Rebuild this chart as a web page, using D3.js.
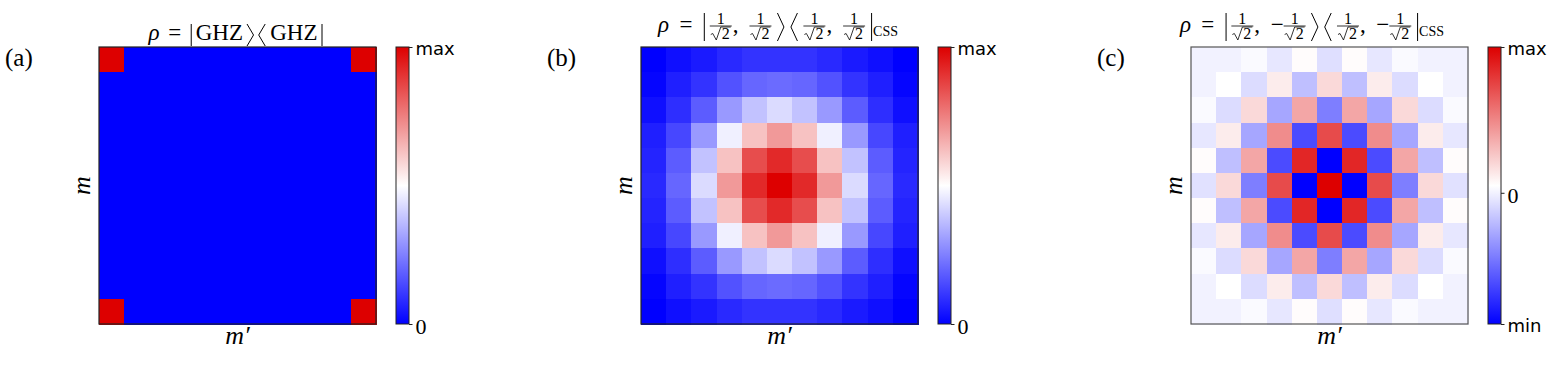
<!DOCTYPE html>
<html>
<head>
<meta charset="utf-8">
<script src="https://cdn.jsdelivr.net/npm/d3@7"></script>
<style>
  body { margin: 0; background: #fff; }
  svg { display: block; }
</style>
</head>
<body>
<svg id="chart" width="1565" height="370"></svg>
<script>
// ---------------------------------------------------------------------------
// data (11 x 11 density matrices, rows top -> bottom)
// ---------------------------------------------------------------------------
const ghzValues = [
  [1, 0, 0, 0, 0, 0, 0, 0, 0, 0, 1],
  [0, 0, 0, 0, 0, 0, 0, 0, 0, 0, 0],
  [0, 0, 0, 0, 0, 0, 0, 0, 0, 0, 0],
  [0, 0, 0, 0, 0, 0, 0, 0, 0, 0, 0],
  [0, 0, 0, 0, 0, 0, 0, 0, 0, 0, 0],
  [0, 0, 0, 0, 0, 0, 0, 0, 0, 0, 0],
  [0, 0, 0, 0, 0, 0, 0, 0, 0, 0, 0],
  [0, 0, 0, 0, 0, 0, 0, 0, 0, 0, 0],
  [0, 0, 0, 0, 0, 0, 0, 0, 0, 0, 0],
  [0, 0, 0, 0, 0, 0, 0, 0, 0, 0, 0],
  [1, 0, 0, 0, 0, 0, 0, 0, 0, 0, 1]
]

const cssPlusValues = [
  [0.00, 0.03, 0.05, 0.08, 0.10, 0.10, 0.10, 0.08, 0.05, 0.03, 0.00],
  [0.01, 0.06, 0.10, 0.16, 0.20, 0.21, 0.20, 0.16, 0.10, 0.06, 0.01],
  [0.03, 0.09, 0.18, 0.30, 0.38, 0.43, 0.38, 0.30, 0.18, 0.09, 0.03],
  [0.06, 0.14, 0.30, 0.47, 0.62, 0.70, 0.62, 0.47, 0.30, 0.14, 0.06],
  [0.07, 0.18, 0.38, 0.62, 0.85, 0.92, 0.85, 0.62, 0.38, 0.18, 0.07],
  [0.08, 0.20, 0.43, 0.70, 0.92, 1.00, 0.92, 0.70, 0.43, 0.20, 0.08],
  [0.07, 0.18, 0.38, 0.62, 0.85, 0.92, 0.85, 0.62, 0.38, 0.18, 0.07],
  [0.06, 0.14, 0.30, 0.47, 0.62, 0.70, 0.62, 0.47, 0.30, 0.14, 0.06],
  [0.03, 0.09, 0.18, 0.30, 0.38, 0.43, 0.38, 0.30, 0.18, 0.09, 0.03],
  [0.01, 0.06, 0.10, 0.16, 0.20, 0.21, 0.20, 0.16, 0.10, 0.06, 0.01],
  [0.00, 0.03, 0.05, 0.08, 0.10, 0.10, 0.10, 0.08, 0.05, 0.03, 0.00]
]

const cssMinusValues = [
  [0.00, 0.00, 0.03, -0.04, 0.06, -0.07, 0.06, -0.04, 0.03, 0.00, 0.00],
  [0.00, 0.05, -0.08, 0.12, -0.19, 0.19, -0.19, 0.12, -0.08, 0.05, 0.00],
  [0.03, -0.08, 0.19, -0.28, 0.38, -0.43, 0.38, -0.28, 0.19, -0.08, 0.03],
  [-0.04, 0.12, -0.28, 0.48, -0.62, 0.72, -0.62, 0.48, -0.28, 0.12, -0.04],
  [0.06, -0.19, 0.38, -0.62, 0.86, -0.90, 0.86, -0.62, 0.38, -0.19, 0.06],
  [-0.06, 0.19, -0.43, 0.72, -0.90, 1.00, -0.90, 0.72, -0.43, 0.19, -0.06],
  [0.06, -0.19, 0.38, -0.62, 0.86, -0.90, 0.86, -0.62, 0.38, -0.19, 0.06],
  [-0.04, 0.12, -0.28, 0.48, -0.62, 0.72, -0.62, 0.48, -0.28, 0.12, -0.04],
  [0.03, -0.08, 0.19, -0.28, 0.38, -0.43, 0.38, -0.28, 0.19, -0.08, 0.03],
  [0.00, 0.05, -0.08, 0.12, -0.19, 0.19, -0.19, 0.12, -0.08, 0.05, 0.00],
  [0.00, 0.00, 0.03, -0.04, 0.06, -0.07, 0.06, -0.04, 0.03, 0.00, 0.00]
]

const panelLabels = ['(a)', '(b)', '(c)']
const colorbarTicks = [
  [{ v: 0, label: '0' }, { v: 1, label: 'max' }],
  [{ v: 0, label: '0' }, { v: 1, label: 'max' }],
  [{ v: -0.9, label: 'min' }, { v: 0, label: '0' }, { v: 1, label: 'max' }]
]

// ---------------------------------------------------------------------------
// setup
// ---------------------------------------------------------------------------
const svg = d3.select('#chart')
const serif = "'Liberation Serif', 'DejaVu Serif', serif"
const sans = "'DejaVu Sans', sans-serif"
const size = 277
const topY = 47

// blue -> white -> red, like the figure
const cmap = d3.scaleLinear()
  .domain([0, 0.5, 1])
  .range(['#0000ff', '#ffffff', '#dd0000'])
  .interpolate(d3.interpolateRgb)

const panels = [
  { left: 99, data: ghzValues, domain: [0, 1], ticks: colorbarTicks[0], border: '#222', label: panelLabels[0], labelX: 5 },
  { left: 641, data: cssPlusValues, domain: [0, 1], ticks: colorbarTicks[1], border: '#222', label: panelLabels[1], labelX: 547 },
  { left: 1191, data: cssMinusValues, domain: [-0.9, 1], ticks: colorbarTicks[2], border: '#555', label: panelLabels[2], labelX: 1097 }
]

const defs = svg.append('defs')

panels.forEach((p, pi) => {
  const n = p.data.length
  const g = svg.append('g').attr('transform', `translate(${p.left},${topY})`)
  const x = d3.scaleBand().domain(d3.range(n)).range([0, size])
  const y = d3.scaleBand().domain(d3.range(n)).range([0, size])
  const norm = d3.scaleLinear().domain(p.domain).range([0, 1])

  const cells = []
  p.data.forEach((row, i) => row.forEach((v, j) => cells.push({ i, j, v })))

  g.selectAll('rect.cell')
    .data(cells)
    .join('rect')
    .attr('class', 'cell')
    .attr('x', d => x(d.j))
    .attr('y', d => y(d.i))
    .attr('width', x.bandwidth() + 0.6)
    .attr('height', y.bandwidth() + 0.6)
    .attr('shape-rendering', 'crispEdges')
    .attr('fill', d => cmap(norm(d.v)))

  g.append('rect')
    .attr('width', size)
    .attr('height', size)
    .attr('fill', 'none')
    .attr('stroke', p.border)
    .attr('stroke-width', 1.2)

  // axis labels
  g.append('text')
    .attr('transform', `translate(-9,${size / 2}) rotate(-90)`)
    .attr('text-anchor', 'middle')
    .style('font-family', serif)
    .style('font-style', 'italic')
    .style('font-size', '26px')
    .text('m')

  g.append('text')
    .attr('x', size / 2)
    .attr('y', size + 20)
    .attr('text-anchor', 'middle')
    .style('font-family', serif)
    .style('font-style', 'italic')
    .style('font-size', '26px')
    .text('m′')

  // panel label
  svg.append('text')
    .attr('x', p.labelX)
    .attr('y', 66)
    .style('font-family', serif)
    .style('font-size', '25px')
    .text(p.label)

  // colorbar
  const cbX = p.left + size + 20
  const cbW = 13
  const gradId = 'grad' + pi
  const grad = defs.append('linearGradient')
    .attr('id', gradId)
    .attr('x1', 0).attr('y1', 1).attr('x2', 0).attr('y2', 0)
  d3.range(0, 1.0001, 0.05).forEach(t => {
    grad.append('stop').attr('offset', t).attr('stop-color', cmap(t))
  })
  const cb = svg.append('g').attr('transform', `translate(${cbX},${topY})`)
  cb.append('rect')
    .attr('width', cbW)
    .attr('height', size)
    .attr('fill', `url(#${gradId})`)
    .attr('stroke', '#222')
    .attr('stroke-width', 1)

  const cbScale = d3.scaleLinear().domain(p.domain).range([size, 0])
  const axis = cb.append('g')
    .attr('transform', `translate(${cbW},0)`)
    .call(d3.axisRight(cbScale)
      .tickValues(p.ticks.map(t => t.v))
      .tickSize(3.5)
      .tickPadding(3)
      .tickFormat((d, i) => p.ticks[i].label))
  axis.select('.domain').remove()
  axis.selectAll('.tick line').attr('stroke', '#222')
  axis.selectAll('.tick text')
    .attr('dy', '0.42em')
    .attr('fill', '#000')
    .style('font-family', (d, i) => p.ticks[i].label === '0' ? serif : sans)
    .style('font-size', (d, i) => p.ticks[i].label === '0' ? '22px' : '18px')
})

// ---------------------------------------------------------------------------
// titles (hand-set math; growable gaps stretch it to the reference width)
// ---------------------------------------------------------------------------
function buildTitle(baseline, delimTop, delimBot, pieces, fontSize, extra) {
  const g = svg.append('g')
  let cur = 0
  const mid = (delimTop + delimBot) / 2
  const growSum = d3.sum(pieces, pc => pc.grow || 0)
  pieces.forEach(pc => {
    if (pc.gap !== undefined) {
      cur += pc.gap + (growSum ? extra * (pc.grow || 0) / growSum : 0)
      return
    }
    if (pc.delim) {
      const w = pc.delim === '|' ? 0 : 6.5
      let d
      if (pc.delim === '|') d = `M${cur + 1.5},${delimTop}V${delimBot}`
      else if (pc.delim === '>') d = `M${cur + 1},${delimTop}L${cur + 1 + w},${mid}L${cur + 1},${delimBot}`
      else d = `M${cur + 1 + w},${delimTop}L${cur + 1},${mid}L${cur + 1 + w},${delimBot}`
      g.append('path').attr('d', d).attr('fill', 'none').attr('stroke', '#000').attr('stroke-width', 1)
      cur += w + 3
    } else if (pc.frac) {
      const fs = 16
      const barY = baseline - 6
      const denY = barY + 13
      const fg = g.append('g')
      const two = fg.append('text').attr('y', denY)
        .style('font-family', serif).style('font-size', fs + 'px').text('2')
      const tw = two.node().getComputedTextLength()
      const rw = 11
      const w = rw + tw + 1
      const x0 = cur + 1
      fg.append('path')
        .attr('d', `M${x0},${denY - 4.5}L${x0 + 2},${denY - 5.5}L${x0 + 5.5},${denY + 1}L${x0 + rw - 1},${denY - 12}H${x0 + rw + tw + 1}`)
        .attr('fill', 'none').attr('stroke', '#000').attr('stroke-width', 0.8)
      two.attr('x', x0 + rw)
      fg.append('text').attr('x', x0 + w / 2).attr('y', barY - 2.5).attr('text-anchor', 'middle')
        .style('font-family', serif).style('font-size', fs + 'px').text('1')
      fg.append('line').attr('x1', cur).attr('x2', cur + w + 2)
        .attr('y1', barY).attr('y2', barY).attr('stroke', '#000').attr('stroke-width', 0.8)
      cur += w + 3
    } else {
      const t = g.append('text')
        .attr('x', cur)
        .attr('y', baseline + (pc.dy || 0))
        .style('font-family', serif)
        .style('font-style', pc.italic ? 'italic' : 'normal')
        .style('font-size', (pc.size || fontSize) + 'px')
        .text(pc.s)
      cur += t.node().getComputedTextLength()
    }
  })
  return { g, width: cur }
}

function mathTitle(cx, width, baseline, delimTop, delimBot, pieces, fontSize) {
  const first = buildTitle(baseline, delimTop, delimBot, pieces, fontSize, 0)
  first.g.remove()
  const extra = Math.max(0, width - first.width)
  const t = buildTitle(baseline, delimTop, delimBot, pieces, fontSize, extra)
  t.g.attr('transform', `translate(${cx - t.width / 2},0)`)
}

mathTitle(236, 175, 40, 24, 46, [
  { s: 'ρ', italic: true }, { gap: 8, grow: 0.3 }, { s: '=' }, { gap: 8, grow: 0.3 },
  { delim: '|' }, { gap: 1, grow: 1 }, { s: 'GHZ' }, { gap: 1, grow: 1 }, { delim: '>' },
  { gap: 1, grow: 0.6 }, { delim: '<' }, { gap: 1, grow: 1 }, { s: 'GHZ' }, { gap: 1, grow: 1 }, { delim: '|' }
], 23)

mathTitle(778, 240, 32, 13, 41, [
  { s: 'ρ', italic: true }, { gap: 8, grow: 0.3 }, { s: '=' }, { gap: 8, grow: 0.3 },
  { delim: '|' }, { gap: 0, grow: 0.5 }, { frac: true }, { s: ',' }, { gap: 3, grow: 1 }, { frac: true },
  { gap: 0, grow: 0.5 }, { delim: '>' }, { gap: 0, grow: 0.5 }, { delim: '<' }, { gap: 0, grow: 0.5 },
  { frac: true }, { s: ',' }, { gap: 3, grow: 1 }, { frac: true }, { gap: 0, grow: 0.5 }, { delim: '|' },
  { s: 'CSS', size: 14, dy: 4 }
], 23)

mathTitle(1312, 264, 32, 13, 41, [
  { s: 'ρ', italic: true }, { gap: 8, grow: 0.3 }, { s: '=' }, { gap: 8, grow: 0.3 },
  { delim: '|' }, { gap: 0, grow: 0.5 }, { frac: true }, { s: ',' }, { gap: 3, grow: 1 }, { s: '−' }, { frac: true },
  { gap: 0, grow: 0.5 }, { delim: '>' }, { gap: 0, grow: 0.5 }, { delim: '<' }, { gap: 0, grow: 0.5 },
  { frac: true }, { s: ',' }, { gap: 3, grow: 1 }, { s: '−' }, { frac: true }, { gap: 0, grow: 0.5 }, { delim: '|' },
  { s: 'CSS', size: 14, dy: 4 }
], 23)
</script>
</body>
</html>
